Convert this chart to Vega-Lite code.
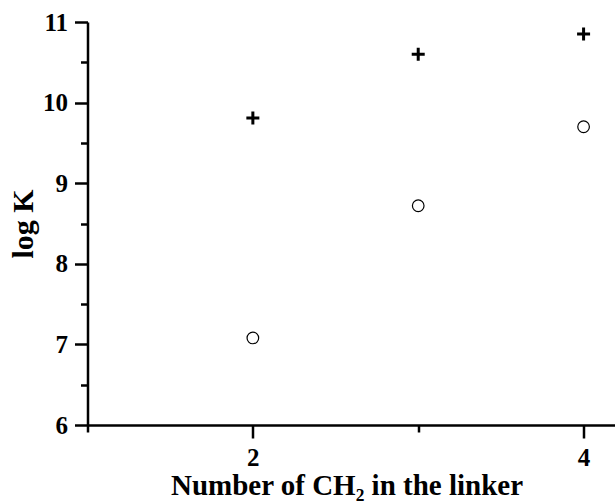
{
  "$schema": "https://vega.github.io/schema/vega-lite/v6.json",
  "width": 527.5,
  "height": 403,
  "autosize": {"type": "none"},
  "padding": {"left": 87.5, "top": 22, "right": 0, "bottom": 76},
  "background": "white",
  "config": {
    "view": {"stroke": null},
    "font": "Liberation Serif",
    "axis": {
      "grid": false,
      "domainColor": "black",
      "domainWidth": 2.5,
      "tickColor": "black",
      "tickWidth": 2.5,
      "labelColor": "black",
      "labelFont": "Liberation Serif",
      "labelFontWeight": "bold",
      "labelFontSize": 25,
      "titleColor": "black",
      "titleFont": "Liberation Serif",
      "titleFontWeight": "bold",
      "titleFontSize": 29
    }
  },
  "data": {
    "values": [
      {"n": 2, "logK": 9.81, "series": "plus"},
      {"n": 3, "logK": 10.6, "series": "plus"},
      {"n": 4, "logK": 10.85, "series": "plus"},
      {"n": 2, "logK": 7.08, "series": "circle"},
      {"n": 3, "logK": 8.72, "series": "circle"},
      {"n": 4, "logK": 9.7, "series": "circle"}
    ]
  },
  "resolve": {"axis": {"x": "independent", "y": "independent"}},
  "layer": [
    {
      "transform": [{"filter": "datum.series === 'plus'"}],
      "mark": {"type": "point", "shape": "M-1,0L1,0M0,-1L0,1", "filled": false, "stroke": "black", "strokeWidth": 3, "size": 169, "opacity": 1},
      "encoding": {
        "x": {
          "field": "n", "type": "quantitative",
          "scale": {"domain": [1, 4.19], "nice": false, "zero": false},
          "axis": {
            "orient": "bottom", "values": [2, 4], "tickSize": 13, "labelPadding": 7,
            "format": "d", "title": "Number of CH₂ in the linker",
            "titleX": 259, "titleY": 69, "titleBaseline": "alphabetic", "titleAnchor": "middle", "titleAlign": "center"
          }
        },
        "y": {
          "field": "logK", "type": "quantitative",
          "scale": {"domain": [6, 11], "nice": false, "zero": false},
          "axis": {
            "orient": "left", "values": [6, 7, 8, 9, 10, 11], "tickSize": 13, "labelPadding": 7,
            "format": "d", "title": "log K", "titleFontSize": 30,
            "titleAngle": 270, "titleX": -64.5, "titleY": 201.5, "titleBaseline": "middle", "titleAlign": "center"
          }
        }
      }
    },
    {
      "transform": [{"filter": "datum.series === 'circle'"}],
      "mark": {"type": "point", "shape": "circle", "filled": false, "stroke": "black", "strokeWidth": 1.2, "size": 135, "opacity": 1},
      "encoding": {
        "x": {
          "field": "n", "type": "quantitative",
          "scale": {"domain": [1, 4.19], "nice": false, "zero": false},
          "axis": {
            "orient": "bottom", "values": [1, 3], "tickSize": 7, "labels": false, "domain": false, "title": null
          }
        },
        "y": {
          "field": "logK", "type": "quantitative",
          "scale": {"domain": [6, 11], "nice": false, "zero": false},
          "axis": {
            "orient": "left", "values": [6.5, 7.5, 8.5, 9.5, 10.5], "tickSize": 7, "labels": false, "domain": false, "title": null
          }
        }
      }
    }
  ]
}
